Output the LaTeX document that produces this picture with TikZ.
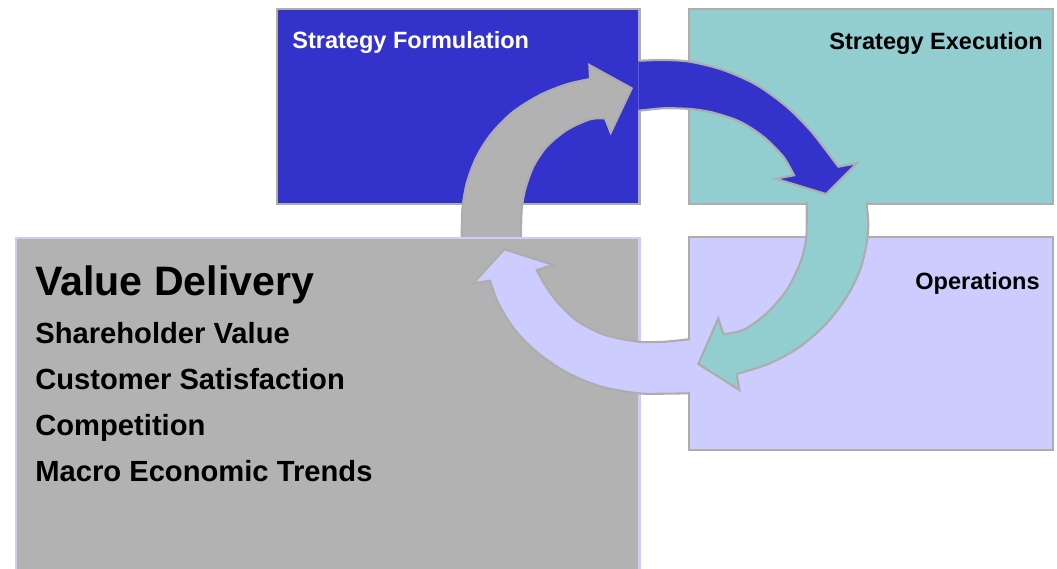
\documentclass[tikz,border=0pt]{standalone}
\usepackage{fontspec}
\setmainfont{Liberation Sans}
\definecolor{formblue}{HTML}{3333CC}
\definecolor{execteal}{RGB}{146,205,208}
\definecolor{opslilac}{HTML}{CCCCFF}
\definecolor{valuegray}{HTML}{B2B2B2}
\definecolor{edgegray}{HTML}{ADADAD}

\begin{document}
\begin{tikzpicture}[x=0.02cm, y=0.02cm,
    box/.style={draw=edgegray, line width=1.3pt},
    cyclearrow/.style={draw=edgegray, line width=1.2pt},
    boxtitle/.style={font=\bfseries\fontsize{13.4}{15}\selectfont, inner sep=0pt},
    listitem/.style={font=\bfseries\fontsize{16.6}{20}\selectfont, anchor=base west, inner sep=0pt}]
    \clip (0, 0) rectangle (1057, 568);

    \draw [box, fill=formblue] (277, 364) rectangle (639.5, 559);
    \draw [box, fill=execteal] (689, 364) rectangle (1053, 559);
    \draw [box, fill=opslilac] (689, 118) rectangle (1053, 330.7);
    \draw [box, draw=opslilac, fill=valuegray] (16, -20) rectangle (639.5, 330);

    \begin{scope}
        \clip (0, 331.2) rectangle (1057, 568);
        \draw [cyclearrow, fill=valuegray] plot [smooth] coordinates {(461, 318) (461.7, 331.3) (462.3, 358) (466.7, 384.7) (476.7, 411.3) (491.7, 434.7) (513.3, 456.3) (540, 473) (566.7, 483.7) (590, 489)}
            -- (589.3, 503) -- (631.7, 479.7) -- (610.7, 435.3)
            -- plot [smooth] coordinates {(605, 449.7) (590, 448.7) (566.7, 438) (546.7, 421.3) (533.3, 401.3) (525, 378) (521.7, 358) (521, 331.3) (521, 318)} -- cycle;
    \end{scope}

    \begin{scope}
        \clip (638.3, 0) rectangle (1057, 568);
        \draw [cyclearrow, fill=formblue] plot [smooth] coordinates {(620, 507.3) (638.3, 507.3) (663.3, 508) (690, 506.3) (723.3, 498) (756.7, 483) (786.7, 461.3) (810, 438) (828.3, 414.7) (838.3, 401.3)}
            -- (856.7, 404.7) -- (826, 374) -- (775.7, 389.3)
            -- plot [smooth] coordinates {(794, 392.7) (783.3, 411.3) (763.3, 431.3) (740, 446.3) (713.3, 455.3) (690, 459) (663.3, 459.7) (638.3, 457.3) (620, 457)} -- cycle;
    \end{scope}

    \begin{scope}
        \clip (0, 0) rectangle (1057, 365.3);
        \draw [cyclearrow, fill=execteal] plot [smooth] coordinates {(867, 378) (866.7, 364.7) (868.3, 344.7) (866.7, 324.7) (860, 298) (846.7, 271.3) (826.7, 244.7) (800, 221.3) (770, 204.7) (736.7, 194)}
            -- (739.3, 178) -- (698.3, 204) -- (718.3, 249.7)
            -- plot [smooth] coordinates {(723.3, 234) (743.3, 238) (766.7, 254.7) (786.7, 278) (800, 304.7) (806, 328) (806.7, 348) (806.7, 364.7) (806.5, 378)} -- cycle;
    \end{scope}

    \begin{scope}
        \clip (0, 0) rectangle (690.2, 568);
        \draw [cyclearrow, fill=opslilac] plot [smooth] coordinates {(705, 175) (688.3, 174.7) (663, 174.3) (638.3, 174.7) (601.7, 181.3) (568.3, 194.7) (538.3, 214.7) (515, 238) (498.3, 264.7) (490, 287.3)}
            -- (473.3, 284.7) -- (504.3, 318.7) -- (553.3, 303)
            -- plot [smooth] coordinates {(536.7, 298) (545, 283) (558.3, 264.7) (578.3, 246.3) (605, 233) (638.3, 226.3) (665, 226.3) (688.3, 228.7) (705, 230)} -- cycle;
    \end{scope}

    \node [boxtitle, text=white, anchor=base west] (form) at (292, 519.7) {Strategy Formulation};
    \node [boxtitle, anchor=base east] (exec) at (1043, 518.7) {Strategy Execution};
    \node [boxtitle, anchor=base east] (ops) at (1040, 278) {Operations};

    \node [listitem, font=\bfseries\fontsize{23.4}{27}\selectfont] (value) at (35, 272) {Value Delivery};
    \node [listitem] (share) at (35, 224) {Shareholder Value};
    \node [listitem] (cust) at (35, 178) {Customer Satisfaction};
    \node [listitem] (comp) at (35, 132.5) {Competition};
    \node [listitem] (macro) at (35, 87) {Macro Economic Trends};
\end{tikzpicture}
\end{document}
